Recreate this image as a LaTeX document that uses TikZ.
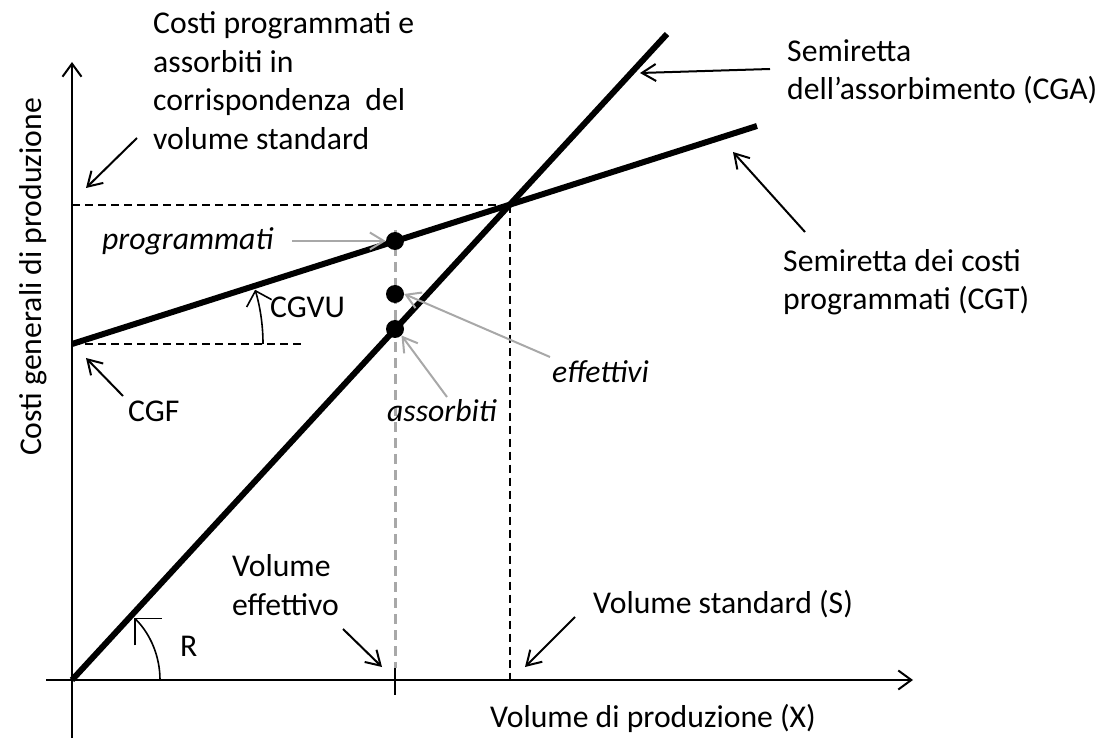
\documentclass[tikz,border=0pt]{standalone}
\usepackage{fontspec}
\setmainfont{Carlito}
\usetikzlibrary{arrows.meta}
\definecolor{mygray}{RGB}{168,168,168}
\begin{document}
\begin{tikzpicture}[x=1pt,y=1pt,
  txt/.style={font=\fontsize{31.7}{38.5}\selectfont, inner sep=0pt, align=left, anchor=base west},
  itxt/.style={txt, font=\fontsize{31.7}{38.5}\selectfont\itshape},
  heavy/.style={line width=6pt},
  axisline/.style={line width=2.3pt, -{Straight Barb[length=13pt,width=19pt,line width=2pt]}},
  ann/.style={line width=2pt, -{Straight Barb[length=14pt,width=17pt]}},
  gann/.style={ann, draw=mygray},
  blackdash/.style={line width=2pt, dash pattern=on 8pt off 5pt},
  graydash/.style={line width=3pt, draw=mygray, dash pattern=on 10pt off 6pt},
  bigdot/.style={circle, fill=black, minimum size=18pt, inner sep=0pt},
  anglearc/.style={line width=1.6pt}
]
\useasboundingbox (0,0) rectangle (1109,740);

% key points
\coordinate (O) at (72,60);
\coordinate (ybot) at (72,2);
\coordinate (ytop) at (72,678);
\coordinate (xleft) at (46,60);
\coordinate (xright) at (913,60);
\coordinate (gaEnd) at (667,706);
\coordinate (gtStart) at (72,396);
\coordinate (gtEnd) at (757,614);
\coordinate (I) at (intersection of O--gaEnd and gtStart--gtEnd);
\coordinate (Ix) at (O -| I);
\coordinate (Iy) at (O |- I);
\coordinate (gtDashEnd) at (303,396);
\coordinate (veTop) at (395,510);
\coordinate (veBot) at (395,72);
\coordinate (tickBot) at (395,45);

% dashed guides
\draw[blackdash] (Iy) -- (I);
\draw[blackdash] (I) -- (Ix);
\draw[blackdash] (gtStart) -- (gtDashEnd);
\draw[graydash] (veTop) -- (veBot);

% axes
\draw[axisline] (ybot) -- (ytop);
\draw[axisline] (xleft) -- (xright);
\draw[line width=2pt] (veBot) -- (tickBot);

% lines
\draw[heavy] (O) -- (gaEnd);
\draw[heavy] (gtStart) -- (gtEnd);

% angle arcs
\draw[anglearc, -{Straight Barb[length=19pt,width=38pt,line width=1.6pt]}] (160,60) arc[start angle=0,end angle=45,radius=88];
\draw[anglearc, -{Straight Barb[length=13pt,width=26pt,line width=1.6pt]}] (263,396) arc[start angle=0,end angle=16.5,radius=191];

% dots
\node[bigdot] (dP) at (395,499) {};
\node[bigdot] (dE) at (395,446) {};
\node[bigdot] (dA) at (395,411) {};

% texts (multi-line nodes: base = last line's baseline)
\node[txt] (ttop) at (153,590.5) {Costi programmati e\\assorbiti in\\corrispondenza\ \ del\\volume standard};
\node[txt] (tcga) at (787,640) {Semiretta\\dell’assorbimento (CGA)};
\node[txt] (tcgt) at (783,430) {Semiretta dei costi\\programmati (CGT)};
\node[itxt] (tprog) at (102,490) {programmati};
\node[txt] (tcgvu) at (270,422) {CGVU};
\node[txt] (tcgf) at (128,318) {CGF};
\node[itxt] (teff) at (552,357) {effettivi};
\node[itxt] (tass) at (387,318) {assorbiti};
\node[txt] (tR) at (180,84) {R};
\node[txt] (tveff) at (232,125) {Volume\\effettivo};
\node[txt] (tvstd) at (593,127) {Volume standard (S)};
\node[txt] (txlab) at (490,13) {Volume di produzione (X)};
\node[txt, rotate=90, anchor=base] (tylab) at (42,463) {Costi generali di produzione};

% annotation arrow endpoints
\coordinate (a1s) at (137,602); \coordinate (a1e) at (86,552);
\coordinate (a2s) at (770,671); \coordinate (a2e) at (640,667);
\coordinate (a3s) at (805,508); \coordinate (a3e) at (733,588);
\coordinate (a4s) at (123,344); \coordinate (a4e) at (86,382);
\coordinate (a5s) at (343,111); \coordinate (a5e) at (382,73);
\coordinate (a6s) at (575,123); \coordinate (a6e) at (525,73);
\coordinate (g7s) at (292,499);
\coordinate (g8s) at (550,383);
\coordinate (g9s) at (447,343);

\draw[ann] (a1s) -- (a1e);
\draw[ann] (a2s) -- (a2e);
\draw[ann] (a3s) -- (a3e);
\draw[ann] (a4s) -- (a4e);
\draw[ann] (a5s) -- (a5e);
\draw[ann] (a6s) -- (a6e);
\draw[gann] (g7s) -- (dP.west);
\draw[gann] (g8s) -- (dE.east);
\draw[gann] (g9s) -- (dA.south east);
\end{tikzpicture}
\end{document}
